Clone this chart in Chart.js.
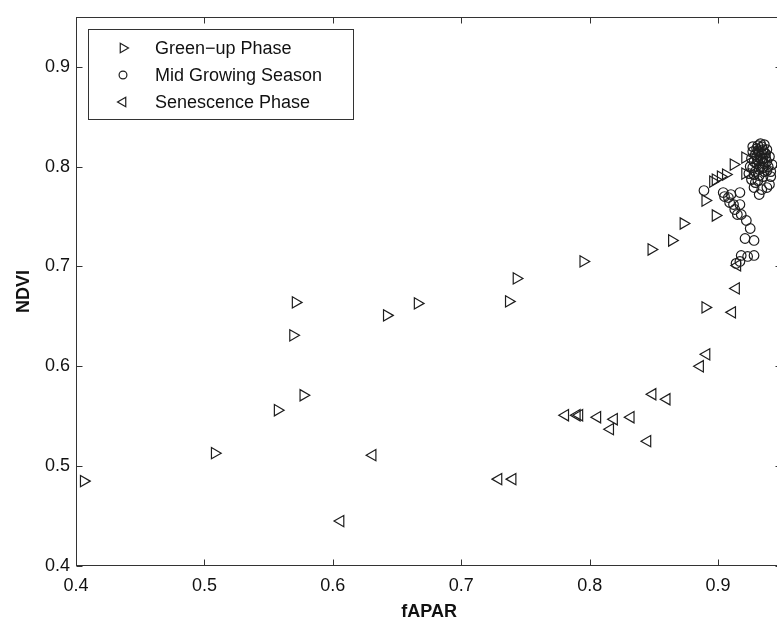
<!DOCTYPE html>
<html><head><meta charset="utf-8">
<script src="https://cdn.jsdelivr.net/npm/chart.js@4.4.0/dist/chart.umd.min.js"></script>
<style>
html,body{margin:0;padding:0;background:#fff;overflow:hidden}
#wrap{width:777px;height:623px;overflow:hidden;position:relative;background:#fff}
canvas{display:block}
</style></head><body>
<div id="wrap"><canvas id="c" width="790" height="623"></canvas></div>
<script>
// ---- data ----
const greenUpFapar = [0.406,0.508,0.557,0.577,0.569,0.571,0.642,0.666,0.737,0.743,0.795,0.848,0.864,0.873,0.898,0.890,0.896,0.898,0.902,0.906,0.912,0.921,0.921,0.890];
const greenUpNdvi  = [0.485,0.513,0.556,0.571,0.631,0.664,0.651,0.663,0.665,0.688,0.705,0.717,0.726,0.743,0.751,0.766,0.785,0.787,0.790,0.792,0.802,0.809,0.793,0.659];

const midSeasonFapar = [0.889,0.904,0.908,0.909,0.912,0.917,0.913,0.917,0.915,0.918,0.922,0.925,0.921,0.928,0.918,0.923,0.928,0.917,0.914,0.905,0.910,
  0.927,0.926,0.931,0.935,0.941,0.928,0.934,0.932,0.938,0.940,
  0.928,0.930,0.932,0.934,0.936,0.933,0.930,0.929,0.931,0.935,0.937,0.938,0.936,0.933,0.938,0.940,0.926,0.927,0.934,0.931,0.939,0.929,0.936,0.932,0.925,0.935,0.930,0.937,0.933,0.928,0.942,0.941,0.924,
  0.929,0.932,0.935,0.938,0.931,0.934,0.927,0.936];
const midSeasonNdvi  = [0.776,0.774,0.769,0.764,0.762,0.774,0.757,0.762,0.752,0.752,0.746,0.738,0.728,0.726,0.711,0.710,0.711,0.705,0.703,0.770,0.772,
  0.799,0.787,0.786,0.790,0.790,0.779,0.777,0.772,0.779,0.782,
  0.805,0.810,0.815,0.820,0.822,0.823,0.818,0.812,0.806,0.808,0.813,0.817,0.803,0.800,0.805,0.810,0.808,0.815,0.813,0.821,0.800,0.795,0.795,0.797,0.800,0.817,0.803,0.809,0.808,0.792,0.802,0.795,0.793,
  0.784,0.791,0.799,0.796,0.816,0.806,0.820,0.814];

const senescenceFapar = [0.606,0.631,0.729,0.740,0.781,0.790,0.792,0.806,0.819,0.816,0.832,0.845,0.849,0.860,0.886,0.891,0.911,0.914,0.915];
const senescenceNdvi  = [0.445,0.511,0.487,0.487,0.551,0.551,0.551,0.549,0.547,0.537,0.549,0.525,0.572,0.567,0.600,0.612,0.654,0.678,0.701];

const seriesNames = ['Green\u2212up Phase','Mid Growing Season','Senescence Phase'];
const xTickValues = [0.4,0.5,0.6,0.7,0.8,0.9];
const xTickLabels = ['0.4','0.5','0.6','0.7','0.8','0.9'];
const yTickValues = [0.4,0.5,0.6,0.7,0.8,0.9];
const yTickLabels = ['0.4','0.5','0.6','0.7','0.8','0.9'];
const xTitle = 'fAPAR';
const yTitle = 'NDVI';

// ---- styling ----
const INK = '#1e1e1e';
const FONT = '"Liberation Sans", Arial, Helvetica, sans-serif';
const toPts = (xs, ys) => xs.map((v, i) => ({x: v, y: ys[i]}));

function drawTri(ctx, x, y, r, rotDeg) {
  let rad = rotDeg * Math.PI / 180;
  ctx.beginPath();
  ctx.moveTo(x + Math.sin(rad) * r, y - Math.cos(rad) * r);
  rad += 2 * Math.PI / 3;
  ctx.lineTo(x + Math.sin(rad) * r, y - Math.cos(rad) * r);
  rad += 2 * Math.PI / 3;
  ctx.lineTo(x + Math.sin(rad) * r, y - Math.cos(rad) * r);
  ctx.closePath();
  ctx.stroke();
}

const framePlugin = {
  id: 'frame',
  afterDatasetsDraw(chart) {
    const {ctx, chartArea: a, scales} = chart;
    const L = Math.round(a.left) + 0.5, R = Math.round(a.right) - 0.5;
    const T = Math.round(a.top) + 0.5, B = Math.round(a.bottom) - 0.5;
    ctx.save();
    ctx.strokeStyle = '#333';
    ctx.lineWidth = 1;
    ctx.strokeRect(L, T, R - L, B - T);
    const tl = 6;
    ctx.beginPath();
    xTickValues.forEach(v => {
      const px = Math.round(scales.x.getPixelForValue(v)) + 0.5;
      ctx.moveTo(px, B); ctx.lineTo(px, B - tl);
      ctx.moveTo(px, T); ctx.lineTo(px, T + tl);
    });
    yTickValues.forEach(v => {
      const py = Math.round(scales.y.getPixelForValue(v)) + 0.5;
      ctx.moveTo(L, py); ctx.lineTo(L + tl, py);
      ctx.moveTo(R, py); ctx.lineTo(R - tl, py);
    });
    ctx.stroke();
    ctx.restore();
  }
};

const legendPlugin = {
  id: 'boxLegend',
  afterDraw(chart) {
    const ctx = chart.ctx;
    ctx.save();
    ctx.fillStyle = '#fff';
    ctx.strokeStyle = '#333';
    ctx.lineWidth = 1;
    ctx.fillRect(88.5, 29.5, 265, 90);
    ctx.strokeRect(88.5, 29.5, 265, 90);
    ctx.strokeStyle = INK;
    ctx.lineWidth = 1.2;
    ctx.fillStyle = '#111';
    ctx.font = '18px ' + FONT;
    ctx.textBaseline = 'middle';
    ctx.textAlign = 'left';
    seriesNames.forEach((name, i) => {
      const cy = 48 + 27 * i, cx = 123;
      if (i === 0) drawTri(ctx, cx, cy, 5.5, 90);
      else if (i === 1) { ctx.beginPath(); ctx.arc(cx, cy, 3.9, 0, Math.PI * 2); ctx.stroke(); }
      else drawTri(ctx, cx, cy, 5.5, -90);
      ctx.fillText(name, 155, cy + 1);
    });
    ctx.restore();
  }
};

const common = {showLine: false, backgroundColor: 'rgba(0,0,0,0)', borderColor: INK, pointBorderColor: INK,
  pointBackgroundColor: 'rgba(0,0,0,0)', pointBorderWidth: 1.2, pointHoverRadius: 0};

new Chart(document.getElementById('c'), {
  type: 'scatter',
  data: {
    datasets: [
      Object.assign({label: seriesNames[0], data: toPts(greenUpFapar, greenUpNdvi), pointStyle: 'triangle', rotation: 90, pointRadius: 6.5}, common),
      Object.assign({label: seriesNames[1], data: toPts(midSeasonFapar, midSeasonNdvi), pointStyle: 'circle', pointRadius: 4.8}, common),
      Object.assign({label: seriesNames[2], data: toPts(senescenceFapar, senescenceNdvi), pointStyle: 'triangle', rotation: -90, pointRadius: 6.5}, common)
    ]
  },
  options: {
    responsive: false,
    animation: false,
    events: [],
    layout: {padding: {left: 0, right: 7, top: 11, bottom: 0}},
    plugins: {legend: {display: false}, tooltip: {enabled: false}},
    scales: {
      x: {
        type: 'linear', min: 0.4, max: 0.95,
        afterFit(s) { s.height = 57; },
        afterBuildTicks(s) { s.ticks = xTickValues.map(v => ({value: v})); },
        grid: {display: false, drawTicks: false},
        border: {display: false},
        ticks: {padding: 9, color: '#111', font: {family: FONT, size: 18},
          callback: (v, i) => xTickLabels[i]},
        title: {display: true, text: xTitle, color: '#111', padding: {top: 0, bottom: 0},
          font: {family: FONT, size: 18, weight: 'bold'}}
      },
      y: {
        type: 'linear', min: 0.4, max: 0.95,
        afterFit(s) { s.width = 76; },
        afterBuildTicks(s) { s.ticks = yTickValues.map(v => ({value: v})); },
        grid: {display: false, drawTicks: false},
        border: {display: false},
        ticks: {padding: 6, color: '#111', font: {family: FONT, size: 18},
          callback: (v, i) => yTickLabels[i]},
        title: {display: true, text: yTitle, color: '#111', padding: {top: 13, bottom: 0},
          font: {family: FONT, size: 18, weight: 'bold'}}
      }
    }
  },
  plugins: [framePlugin, legendPlugin]
});
</script>
</body></html>
